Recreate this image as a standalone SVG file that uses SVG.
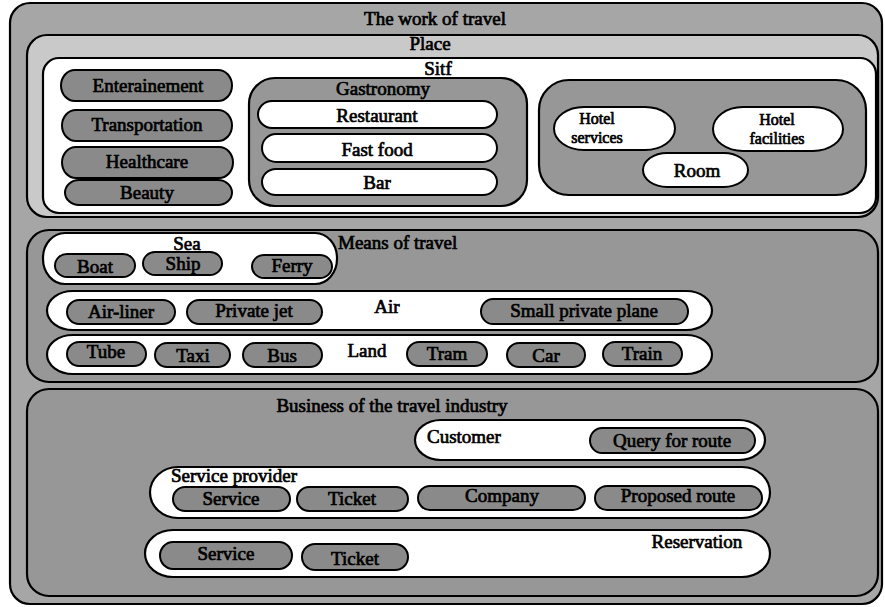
<svg xmlns="http://www.w3.org/2000/svg" width="885" height="607" viewBox="0 0 885 607">
<style>
text{font-family:'Liberation Serif','DejaVu Serif','Times New Roman',serif;font-size:19px;fill:#000;stroke:#000;stroke-width:0.7}
.m{text-anchor:middle}
.sm{font-size:16px}
.box{stroke:#000;stroke-width:2.2}
.outer{fill:#a6a6a6}
.place{fill:#c9c9c9}
.white{fill:#fff}
.grp{fill:#979797}
.pill{fill:#8a8a8a;stroke:#000;stroke-width:2}
.wp{fill:#fff;stroke:#000;stroke-width:2}
</style>
<rect width="885" height="607" fill="#fff"/>
<g id="work">
<rect class="box outer" x="10" y="3" width="872" height="601" rx="20" ry="20"/>
<text class="m" x="435" y="25">The work of travel</text>
</g>
<g id="place">
<rect class="box place" x="27" y="35" width="851" height="182" rx="20" ry="20"/>
<text class="m" x="430" y="50">Place</text>
</g>
<g id="sitf">
<rect class="box white" x="43" y="58" width="833" height="155" rx="16" ry="16"/>
<text class="m" x="438" y="75">Sitf</text>
</g>
<g id="enterainement"><rect class="pill" x="61" y="70" width="171" height="31" rx="14" ry="15.5"/><text class="m" x="148" y="92">Enterainement</text></g>
<g id="transportation"><rect class="pill" x="62" y="110" width="170" height="31" rx="14" ry="15.5"/><text class="m" x="147" y="131">Transportation</text></g>
<g id="healthcare"><rect class="pill" x="62" y="147" width="171" height="31" rx="14" ry="15.5"/><text class="m" x="147" y="168">Healthcare</text></g>
<g id="beauty"><rect class="pill" x="65" y="180" width="167" height="25" rx="14" ry="12.5"/><text class="m" x="147" y="199">Beauty</text></g>
<g id="gastronomy">
<rect class="box grp" x="249" y="78" width="278" height="128" rx="26" ry="26"/>
<text class="m" x="383" y="95">Gastronomy</text>
</g>
<g id="restaurant"><rect class="wp" x="258" y="101" width="239" height="27" rx="14" ry="13.5"/><text class="m" x="377" y="122">Restaurant</text></g>
<g id="fastfood"><rect class="wp" x="262" y="134" width="235" height="28" rx="14" ry="14"/><text class="m" x="377" y="156">Fast food</text></g>
<g id="bar"><rect class="wp" x="262" y="169" width="235" height="26" rx="14" ry="13"/><text class="m" x="377" y="189">Bar</text></g>
<g id="hotel"><rect class="box grp" x="539" y="80" width="327" height="115" rx="30" ry="30"/></g>
<g id="hotelservices"><rect class="wp" x="554" y="107" width="121" height="43" rx="30" ry="21.5"/><text class="m sm" x="597" y="124">Hotel</text><text class="m sm" x="597" y="143">services</text></g>
<g id="hotelfacilities"><rect class="wp" x="713" y="107" width="130" height="44" rx="30" ry="22"/><text class="m sm" x="777" y="125">Hotel</text><text class="m sm" x="777" y="144">facilities</text></g>
<g id="room"><rect class="wp" x="643" y="153" width="105" height="34" rx="24" ry="17"/><text class="m" x="697" y="177">Room</text></g>

<g id="means">
<rect class="box grp" x="27" y="230" width="851" height="152" rx="22" ry="22"/>
<text x="338" y="249">Means of travel</text>
</g>
<g id="sea"><rect class="box white" x="43" y="233" width="294" height="51" rx="22" ry="25"/><text class="m" x="187" y="250">Sea</text></g>
<g id="boat"><rect class="pill" x="55" y="254" width="80" height="23" rx="12" ry="11.5"/><text class="m" x="95" y="273">Boat</text></g>
<g id="ship"><rect class="pill" x="143" y="252" width="79" height="23" rx="12" ry="11.5"/><text class="m" x="183" y="270">Ship</text></g>
<g id="ferry"><rect class="pill" x="252" y="255" width="80" height="23" rx="12" ry="11.5"/><text class="m" x="292" y="272">Ferry</text></g>
<g id="air"><rect class="box white" x="47" y="291" width="665" height="39" rx="26" ry="19.5"/><text class="m" x="387" y="313">Air</text></g>
<g id="airliner"><rect class="pill" x="67" y="300" width="108" height="24" rx="12" ry="12"/><text class="m" x="121" y="318">Air-liner</text></g>
<g id="privatejet"><rect class="pill" x="187" y="300" width="135" height="24" rx="12" ry="12"/><text class="m" x="254" y="317">Private jet</text></g>
<g id="smallplane"><rect class="pill" x="481" y="299" width="207" height="25" rx="12" ry="12.5"/><text class="m" x="584" y="317">Small private plane</text></g>
<g id="land"><rect class="box white" x="47" y="335" width="665" height="39" rx="26" ry="19.5"/><text class="m" x="367" y="357">Land</text></g>
<g id="tube"><rect class="pill" x="67" y="342" width="79" height="24" rx="12" ry="12"/><text class="m" x="106" y="358">Tube</text></g>
<g id="taxi"><rect class="pill" x="155" y="343" width="75" height="24" rx="12" ry="12"/><text class="m" x="193" y="362">Taxi</text></g>
<g id="bus"><rect class="pill" x="243" y="343" width="79" height="24" rx="12" ry="12"/><text class="m" x="282" y="362">Bus</text></g>
<g id="tram"><rect class="pill" x="407" y="342" width="80" height="24" rx="12" ry="12"/><text class="m" x="447" y="360">Tram</text></g>
<g id="car"><rect class="pill" x="507" y="343" width="78" height="24" rx="12" ry="12"/><text class="m" x="546" y="362">Car</text></g>
<g id="train"><rect class="pill" x="603" y="342" width="79" height="24" rx="12" ry="12"/><text class="m" x="642" y="360">Train</text></g>

<g id="business">
<rect class="box grp" x="27" y="389" width="851" height="207" rx="22" ry="22"/>
<text class="m" x="392" y="412">Business of the travel industry</text>
</g>
<g id="customer"><rect class="box white" x="415" y="420" width="350" height="40" rx="26" ry="20"/><text x="427" y="443">Customer</text></g>
<g id="query"><rect class="pill" x="590" y="428" width="165" height="25" rx="12" ry="12.5"/><text class="m" x="672" y="447">Query for route</text></g>
<g id="provider"><rect class="box white" x="150" y="467" width="620" height="51" rx="28" ry="25.5"/><text x="171" y="482">Service provider</text></g>
<g id="pservice"><rect class="pill" x="173" y="487" width="117" height="24" rx="12" ry="12"/><text class="m" x="231" y="505">Service</text></g>
<g id="pticket"><rect class="pill" x="297" y="487" width="111" height="24" rx="12" ry="12"/><text class="m" x="352" y="505">Ticket</text></g>
<g id="company"><rect class="pill" x="418" y="486" width="167" height="24" rx="12" ry="12"/><text class="m" x="502" y="502">Company</text></g>
<g id="proposed"><rect class="pill" x="595" y="486" width="167" height="24" rx="12" ry="12"/><text class="m" x="678" y="502">Proposed route</text></g>
<g id="reservation"><rect class="box white" x="145" y="530" width="625" height="47" rx="28" ry="23.5"/><text class="m" x="697" y="548">Reservation</text></g>
<g id="rservice"><rect class="pill" x="160" y="542" width="132" height="27" rx="13" ry="13.5"/><text class="m" x="226" y="560">Service</text></g>
<g id="rticket"><rect class="pill" x="302" y="544" width="106" height="26" rx="13" ry="13"/><text class="m" x="355" y="565">Ticket</text></g>
<g id="connectors"></g>
</svg>
